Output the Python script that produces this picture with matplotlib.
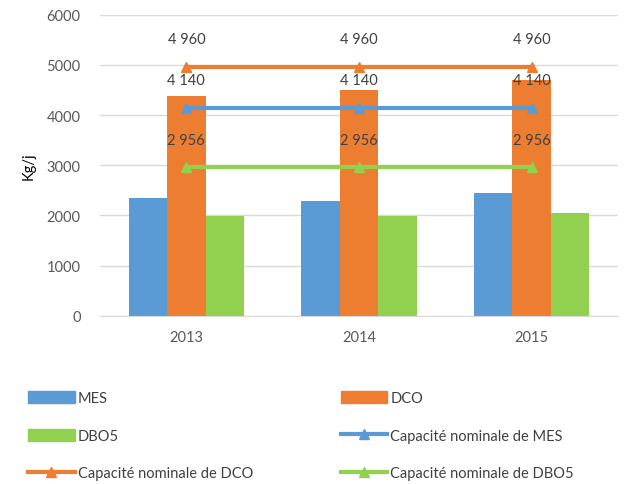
import matplotlib
matplotlib.use("Agg")
import matplotlib.pyplot as plt
import numpy as np
from matplotlib.patches import Patch
from matplotlib.lines import Line2D

years = ["2013", "2014", "2015"]
mes = [2350, 2290, 2450]
dco = [4380, 4490, 4690]
dbo5 = [1990, 1990, 2050]
cap_mes = [4140, 4140, 4140]
cap_dco = [4960, 4960, 4960]
cap_dbo5 = [2956, 2956, 2956]
yticks = [0, 1000, 2000, 3000, 4000, 5000, 6000]

c_mes = "#5B9BD5"
c_dco = "#ED7D31"
c_dbo = "#92D050"

plt.rcParams['font.family'] = ['Lato', 'DejaVu Sans']

fig = plt.figure(figsize=(6.33, 4.85), dpi=100)
ax = fig.add_axes([100/633, 1-316.7/485, 518/633, 301/485])

x = np.arange(len(years))
w = 0.223
ax.bar(x - w, mes, w, color=c_mes, zorder=2)
ax.bar(x, dco, w, color=c_dco, zorder=2)
ax.bar(x + w, dbo5, w, color=c_dbo, zorder=2)

for vals, col in [(cap_dco, c_dco), (cap_mes, c_mes), (cap_dbo5, c_dbo)]:
    ax.plot(x, vals, color=col, lw=3, marker='^', ms=7, zorder=3)
    for xi, v in zip(x, vals):
        lbl = f"{v:,}".replace(",", " ")
        ax.annotate(lbl, (xi, v), xytext=(0, 20), textcoords='offset points',
                    ha='center', va='center', fontsize=10.5, color='#404040', zorder=4)

ax.set_xlim(-0.5, 2.5)
ax.set_ylim(0, 6000)
ax.set_yticks(yticks)
ax.set_xticks(x)
ax.set_xticklabels(years)
ax.tick_params(length=0, labelsize=10.5, colors='#595959')
ax.tick_params(axis='y', pad=14)
ax.tick_params(axis='x', pad=10)
ax.grid(axis='y', color='#d9d9d9', lw=1, zorder=0)
for s in ['top', 'right', 'left']:
    ax.spines[s].set_visible(False)
ax.spines['bottom'].set_color('#d9d9d9')
ax.set_ylabel("Kg/j", fontsize=10.5, color='#000000', labelpad=8)

h_mes = Patch(color=c_mes)
h_dco = Patch(color=c_dco)
h_dbo = Patch(color=c_dbo)
h_cmes = Line2D([], [], color=c_mes, lw=3, marker='^', ms=7)
h_cdco = Line2D([], [], color=c_dco, lw=3, marker='^', ms=7)
h_cdbo = Line2D([], [], color=c_dbo, lw=3, marker='^', ms=7)
handles = [h_mes, h_dbo, h_cdco, h_dco, h_cmes, h_cdbo]
labels = ["MES", "DBO5", "Capacité nominale de DCO", "DCO",
          "Capacité nominale de MES", "Capacité nominale de DBO5"]
fig.legend(handles, labels, ncol=2, loc='upper left', bbox_to_anchor=(15/633, 1-379/485),
           frameon=False, fontsize=10.5, handlelength=3.2, handleheight=0.9,
           handletextpad=0.2, columnspacing=6.0, labelspacing=1.6,
           labelcolor='#404040')

fig.savefig("out.png", dpi=100)
